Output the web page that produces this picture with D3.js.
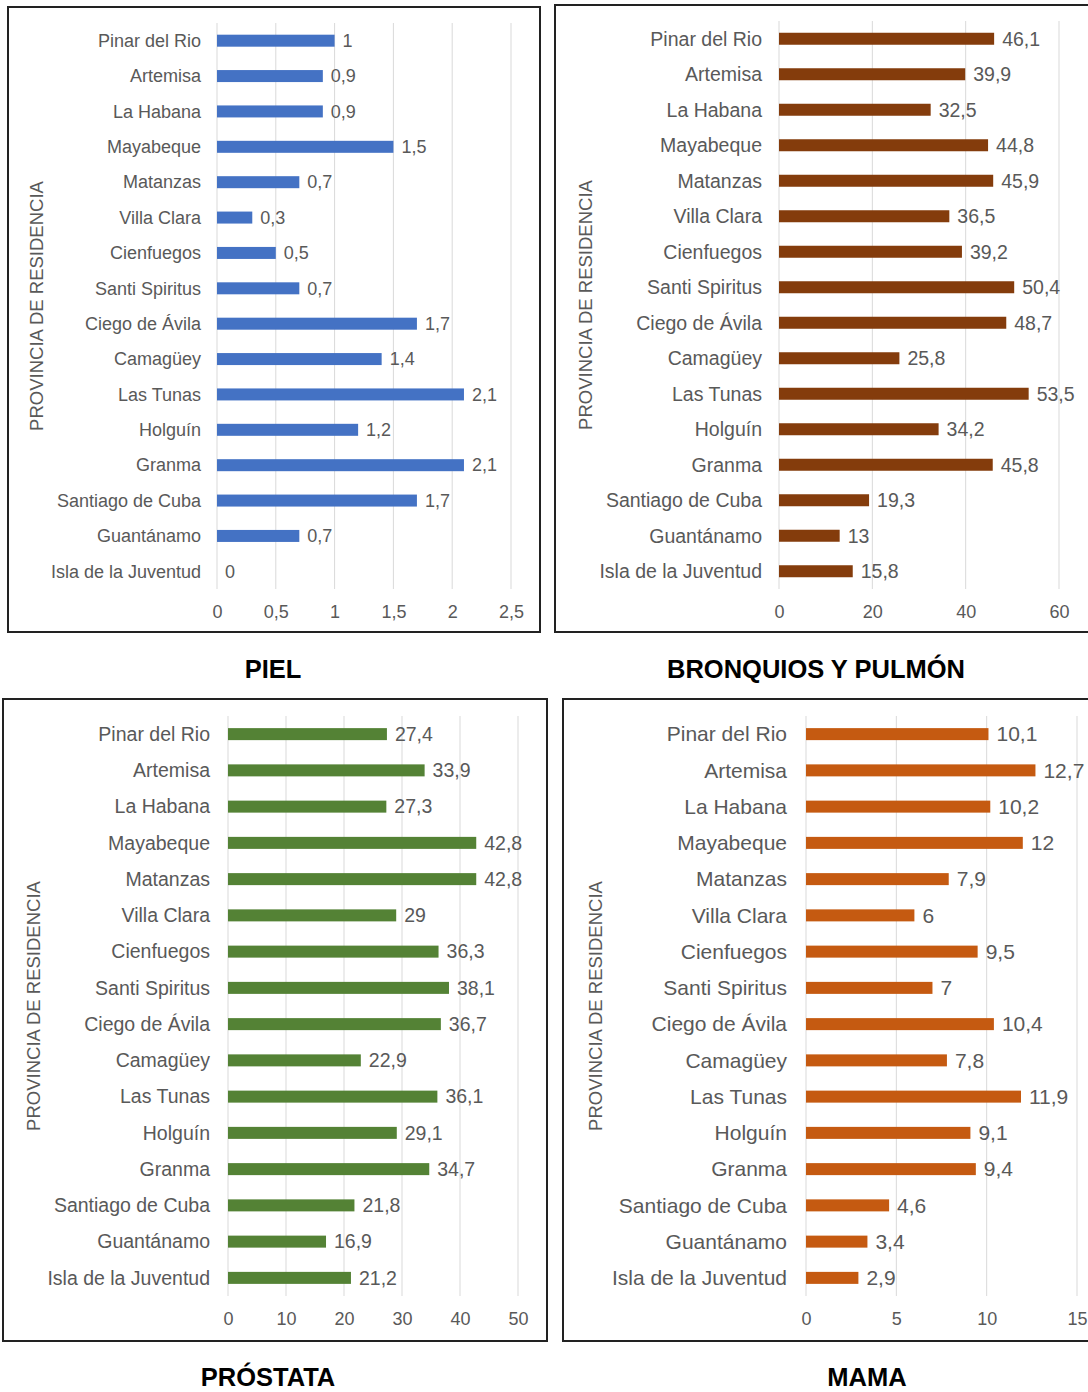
<!DOCTYPE html>
<html>
<head>
<meta charset="utf-8">
<title>Incidencia por provincia</title>
<script src="https://d3js.org/d3.v7.min.js"></script>
<style>
  body { margin: 0; background: #fff; }
  text { font-family: "Liberation Sans", Arial, sans-serif; }
</style>
</head>
<body>
<script>
var provincias = ["Pinar del Rio", "Artemisa", "La Habana", "Mayabeque", "Matanzas", "Villa Clara",
  "Cienfuegos", "Santi Spiritus", "Ciego de Ávila", "Camagüey", "Las Tunas", "Holguín",
  "Granma", "Santiago de Cuba", "Guantánamo", "Isla de la Juventud"];

var piel = [1, 0.9, 0.9, 1.5, 0.7, 0.3, 0.5, 0.7, 1.7, 1.4, 2.1, 1.2, 2.1, 1.7, 0.7, 0];
var bronquios = [46.1, 39.9, 32.5, 44.8, 45.9, 36.5, 39.2, 50.4, 48.7, 25.8, 53.5, 34.2, 45.8, 19.3, 13, 15.8];
var prostata = [27.4, 33.9, 27.3, 42.8, 42.8, 29, 36.3, 38.1, 36.7, 22.9, 36.1, 29.1, 34.7, 21.8, 16.9, 21.2];
var mama = [10.1, 12.7, 10.2, 12, 7.9, 6, 9.5, 7, 10.4, 7.8, 11.9, 9.1, 9.4, 4.6, 3.4, 2.9];

var ticksPiel = [0, 0.5, 1, 1.5, 2, 2.5];
var ticksBronquios = [0, 20, 40, 60];
var ticksProstata = [0, 10, 20, 30, 40, 50];
var ticksMama = [0, 5, 10, 15];

var titulos = ["PIEL", "BRONQUIOS Y PULMÓN", "PRÓSTATA", "MAMA"];
var ejeY = "PROVINCIA DE RESIDENCIA";

var W = 1088, H = 1392;
var svg = d3.select("body").append("svg").attr("width", W).attr("height", H);

var fmt = function(d){ return String(d).replace(".", ","); };

// layout of each panel
var panels = [
  {values: piel, ticks: ticksPiel, color: "#4472C4", title: titulos[0],
   box: [8, 7, 540, 632], x0: 217, x1: 511, top: 23, bottom: 589, axisY: 614,
   labFs: 18, labEnd: 201, ytX: 37, titleX: 273, titleY: 678},
  {values: bronquios, ticks: ticksBronquios, color: "#843C0C", title: titulos[1],
   box: [555, 5, 1092, 632], x0: 779, x1: 1059, top: 21, bottom: 589, axisY: 614,
   labFs: 19.5, labEnd: 762, ytX: 586, titleX: 816, titleY: 678},
  {values: prostata, ticks: ticksProstata, color: "#548235", title: titulos[2],
   box: [3, 699, 547, 1341], x0: 228, x1: 518, top: 716, bottom: 1296, axisY: 1321,
   labFs: 19.5, labEnd: 210, ytX: 34, titleX: 268, titleY: 1386},
  {values: mama, ticks: ticksMama, color: "#C55A11", title: titulos[3],
   box: [563, 699, 1092, 1341], x0: 806, x1: 1077, top: 716, bottom: 1296, axisY: 1321,
   labFs: 21, labEnd: 787, ytX: 596, titleX: 867, titleY: 1386}
];

panels.forEach(function(p){
  var g = svg.append("g");

  g.append("rect")
    .attr("x", p.box[0]).attr("y", p.box[1])
    .attr("width", p.box[2] - p.box[0]).attr("height", p.box[3] - p.box[1])
    .attr("fill", "#fff").attr("stroke", "#222").attr("stroke-width", 2);

  var x = d3.scaleLinear()
    .domain([0, p.ticks[p.ticks.length - 1]])
    .range([p.x0, p.x1]);
  var y = d3.scalePoint()
    .domain(provincias)
    .range([p.top, p.bottom])
    .padding(0.5);

  // grid
  g.selectAll(".grid").data(p.ticks).enter().append("line")
    .attr("x1", function(d){ return x(d); })
    .attr("x2", function(d){ return x(d); })
    .attr("y1", p.top).attr("y2", p.bottom)
    .attr("stroke", "#d9d9d9").attr("stroke-width", 1);

  // x axis labels
  var ax = g.append("g")
    .attr("transform", "translate(0," + (p.axisY - 12) + ")")
    .call(d3.axisBottom(x).tickValues(p.ticks).tickSize(0).tickFormat(fmt));
  ax.select(".domain").remove();
  ax.selectAll("text")
    .attr("fill", "#595959")
    .style("font-size", "18px")
    .style("font-family", "'Liberation Sans', Arial, sans-serif");

  // category labels
  var ay = g.append("g")
    .attr("transform", "translate(" + p.labEnd + ",0)")
    .call(d3.axisLeft(y).tickSize(0).tickPadding(0));
  ay.select(".domain").remove();
  ay.selectAll("text")
    .attr("fill", "#595959")
    .style("font-size", p.labFs + "px")
    .style("font-family", "'Liberation Sans', Arial, sans-serif");

  // bars
  var barH = 12;
  g.selectAll(".bar").data(p.values).enter().append("rect")
    .attr("x", x(0))
    .attr("y", function(d, i){ return y(provincias[i]) - barH / 2; })
    .attr("width", function(d){ return x(d) - x(0); })
    .attr("height", barH)
    .attr("fill", p.color);

  // value labels
  g.selectAll(".val").data(p.values).enter().append("text")
    .attr("x", function(d){ return x(d) + 8; })
    .attr("y", function(d, i){ return y(provincias[i]); })
    .attr("dy", "0.35em")
    .attr("fill", "#595959")
    .style("font-size", p.labFs + "px")
    .text(fmt);

  // y axis title
  g.append("text")
    .attr("transform", "translate(" + p.ytX + "," + ((p.top + p.bottom) / 2) + ") rotate(-90)")
    .attr("text-anchor", "middle")
    .attr("dy", "0.35em")
    .attr("fill", "#595959")
    .style("font-size", "18.5px")
    .text(ejeY);

  // panel title
  svg.append("text")
    .attr("x", p.titleX).attr("y", p.titleY)
    .attr("text-anchor", "middle")
    .attr("fill", "#000")
    .style("font-size", "25.5px")
    .style("font-weight", "bold")
    .text(p.title);
});
</script>
</body>
</html>
